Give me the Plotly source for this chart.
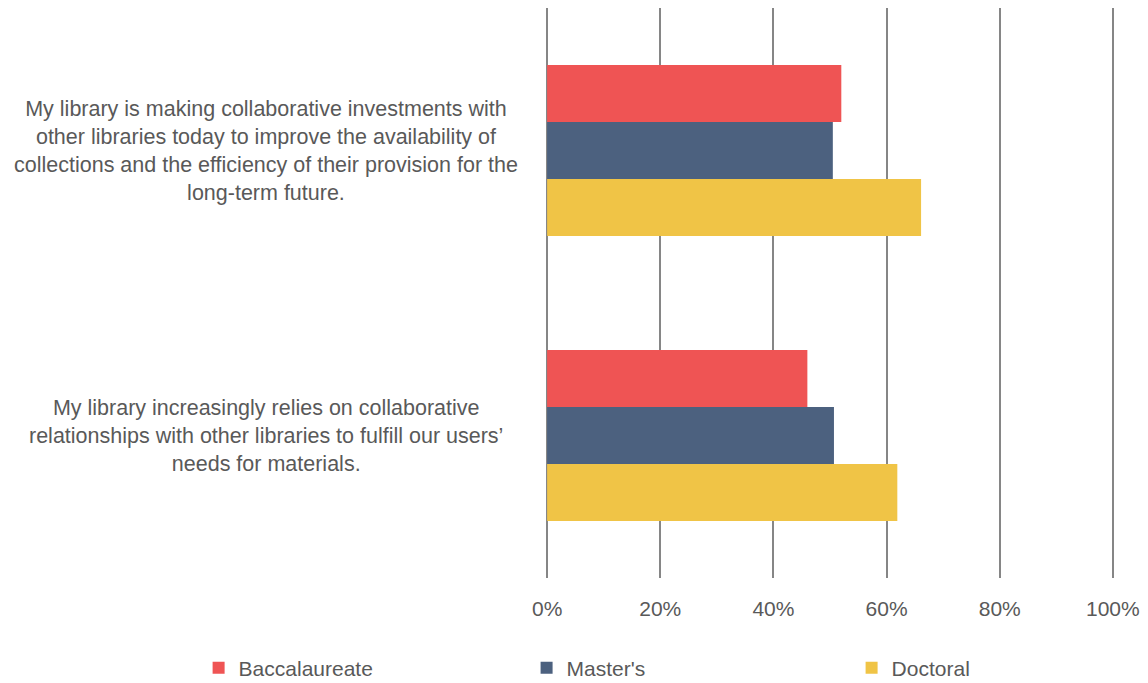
import plotly.graph_objects as go

categories = [
    "My library is making collaborative investments with<br>other libraries today to improve the availability of<br>collections and the efficiency of their provision for the<br>long-term future.",
    "My library increasingly relies on collaborative<br>relationships with other libraries to fulfill our users’<br>needs for materials.",
]
series_names = ["Baccalaureate", "Master's", "Doctoral"]
baccalaureate = [0.52, 0.46]
masters = [0.505, 0.507]
doctoral = [0.661, 0.619]
colors = ["#EF5454", "#4C617F", "#F0C446"]
x_ticks = [0, 0.2, 0.4, 0.6, 0.8, 1.0]

FONT = "Liberation Sans, Arial, sans-serif"
TXT = "#595959"

fig = go.Figure()
legends = ["legend", "legend2", "legend3"]
for name, vals, col, lg in zip(series_names, [baccalaureate, masters, doctoral], colors, legends):
    fig.add_trace(go.Bar(
        y=categories, x=vals, name=name, orientation="h", legend=lg,
        marker=dict(color=col, line=dict(width=0)),
    ))

# category labels, centred lines like the original
for cat in categories:
    fig.add_annotation(
        text=cat, x=-0.493, xref="paper", y=cat, yref="y",
        xanchor="center", yanchor="middle", align="center", showarrow=False,
        font=dict(family=FONT, size=21.5, color=TXT),
    )

# page has an 8px body margin, so the figure is 8px smaller each way
leg = dict(orientation="h", xref="container", yref="container", y=0.022,
           yanchor="middle", xanchor="left", font=dict(size=21, color=TXT),
           bgcolor="rgba(0,0,0,0)")
fig.update_layout(
    width=1140, height=675,
    margin=dict(l=538, r=34, t=0, b=105, autoexpand=False),
    paper_bgcolor="white", plot_bgcolor="white",
    barmode="group", bargap=0.4, bargroupgap=0,
    font=dict(family=FONT, size=21, color=TXT),
    xaxis=dict(
        range=[-0.002, 1.002], tickvals=x_ticks, tickformat=".0%",
        showgrid=True, gridcolor="#868686", gridwidth=2,
        zeroline=False, showline=False, ticks="", automargin=False,
        tickfont=dict(size=21, color=TXT), ticklabelstandoff=16,
    ),
    yaxis=dict(autorange="reversed", showticklabels=False, showgrid=False,
               zeroline=False, showline=False, automargin=False),
    legend=dict(leg, x=0.1672),
    legend2=dict(leg, x=0.4549),
    legend3=dict(leg, x=0.740),
    showlegend=True,
)

fig.write_html("out.html")
